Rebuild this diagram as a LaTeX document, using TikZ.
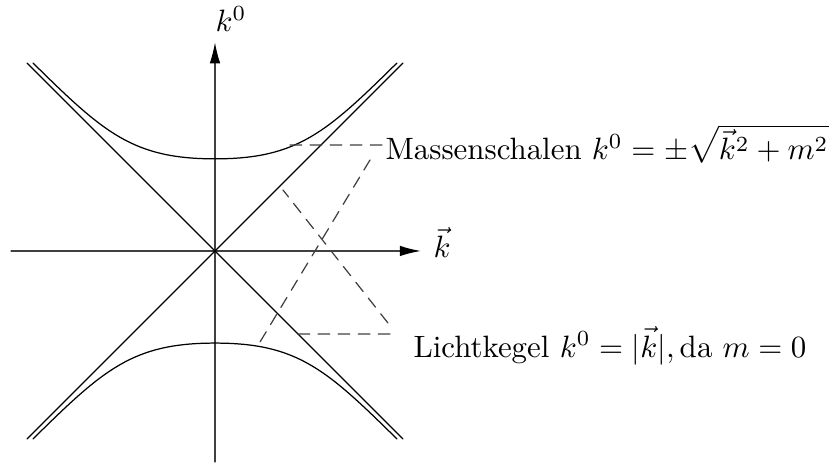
\documentclass[tikz,border=0pt]{standalone}
\usetikzlibrary{arrows.meta}
\begin{document}
\begin{tikzpicture}[line cap=round,line join=round,>={Latex[length=6.8pt,width=3.4pt,color=black]},scale=1.07,
		achse/.style={draw=black!75},
		hinweis/.style={draw=black!75,dash pattern=on 3.8pt off 2.7pt},
		beschrift/.style={inner sep=0pt,anchor=base west}]
	\useasboundingbox (-2.287,-2.266) rectangle (6.596,2.670);
	\draw[achse,->] (-2.17,0)--(2.19,0);
	\draw[achse,->] (0,-2.245)--(0,2.22);
	\node[beschrift] (kvec) at (2.319,-0.074) {$\vec{k}$};
	\node[beschrift] (knull) at (0,2.33) {$k^0$};
	% Lichtkegel
	\draw (-2,-2)--(2,2) (-2,2)--(2,-2);
	% Massenschalen
	\foreach \s in {1,-1}{
		\draw[yscale=\s] (-1.936,2) .. controls (-1.181,1.255) and (-0.872,0.98) .. (0,0.98)
		.. controls (0.872,0.98) and (1.181,1.255) .. (1.936,2);}
	\node[beschrift] (masse) at (1.809,0.968) {Massenschalen $k^0=\pm\sqrt{\vec{k}^2+m^2}$};
	\node[beschrift] (licht) at (2.106,-1.128) {Lichtkegel $k^0=|\vec{k}|,\mathrm{da}\ m=0$};
	\coordinate (m1) at (0.798,1.128);
	\coordinate (m2) at (1.777,1.128);
	\coordinate (m3) at (1.649,0.968);
	\coordinate (m4) at (0.479,-0.968);
	\coordinate (l1) at (0.883,-0.883);
	\coordinate (l2) at (1.915,-0.883);
	\coordinate (l3) at (1.840,-0.766);
	\coordinate (l4) at (0.723,0.649);
	\draw[hinweis] (m1)--(m2) (m3)--(m4);
	\draw[hinweis] (l1)--(l2) (l3)--(l4);
\end{tikzpicture}
\end{document}
